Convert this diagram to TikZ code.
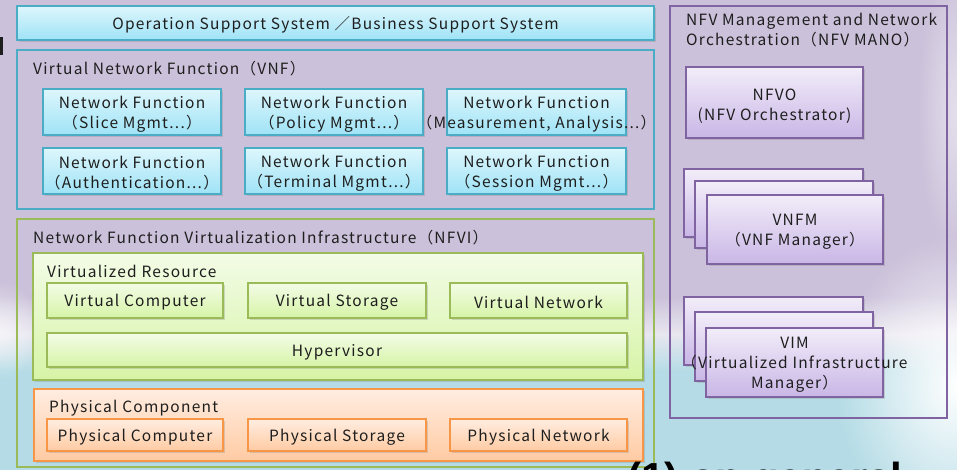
\documentclass[tikz,border=0pt]{standalone}
\usepackage{fontspec}
\setmainfont{Noto Sans CJK JP}[LetterSpace=8]
\newfontfamily\headfont{Liberation Sans}
\usetikzlibrary{shadows,fadings}

% slide palette
\definecolor{bglav}{HTML}{CBC1DA}
\definecolor{bgmist}{HTML}{E8E6EF}
\definecolor{bgblue}{HTML}{B5DCE6}
\definecolor{ink}{HTML}{1E1E1E}
\definecolor{cyline}{HTML}{4BACC6}
\definecolor{cytop}{HTML}{DDF6FC}
\definecolor{cybot}{HTML}{9FE3F6}
\definecolor{grline}{HTML}{9BBB59}
\definecolor{grtop}{HTML}{F3FCE7}
\definecolor{grbot}{HTML}{D6F4A6}
\definecolor{orline}{HTML}{F79646}
\definecolor{ortop}{HTML}{FFEDE1}
\definecolor{orbot}{HTML}{FFCBA3}
\definecolor{puline}{HTML}{8064A2}
\definecolor{putop}{HTML}{F2EDF9}
\definecolor{pubot}{HTML}{C9B6E6}

% backdrop: lavender above, light blue below, misty band between
\pgfdeclareverticalshading{slidebg}{100bp}{color(0bp)=(bgblue); color(25bp)=(bgblue); color(35.5bp)=(bgblue); color(39.5bp)=(bgmist); color(43.5bp)=(bglav); color(75bp)=(bglav); color(100bp)=(bglav)}
\tikzfading[name=glowfade, inner color=transparent!0, outer color=transparent!100]

\tikzset{
  box/.style={rectangle, inner sep=0pt, outer sep=0pt, anchor=north west, line width=1.6pt},
  shade/.style={drop shadow={shadow xshift=1.6pt, shadow yshift=-2pt, opacity=0.28}},
  frame/.style={box, line width=1.3pt},
  cybox/.style={box, shade, draw=cyline, top color=cytop, bottom color=cybot},
  grbox/.style={box, shade, draw=grline, top color=grtop, bottom color=grbot},
  orbox/.style={box, shade, draw=orline, top color=ortop, bottom color=orbot},
  pubox/.style={box, shade, draw=puline, top color=putop, bottom color=pubot},
  txt/.style={inner sep=0pt, align=center, text=ink, font=\fontsize{15.5}{20}\selectfont},
  intxt/.style={txt, yshift=-2pt},
  head/.style={txt, anchor=west, align=left},
}

\begin{document}
\begin{tikzpicture}[x=1pt, y=-1pt]
  % page and backdrop
  \useasboundingbox (0,0) rectangle (957,470);
  \shade[shading=slidebg] (0,0) rectangle (957,470);
  \fill[white, path fading=glowfade] (957,385) ellipse [x radius=120, y radius=150];
  \fill[white, opacity=0.5, path fading=glowfade] (957,110) ellipse [x radius=40, y radius=150];
  \fill[white, opacity=0.6, path fading=glowfade] (0,330) ellipse [x radius=40, y radius=50];
  \fill[ink] (0,37) rectangle (2.5,55);

  % operation / business support
  \node[cybox, minimum width=637pt, minimum height=34pt] (oss) at (17,6) {};
  \node[intxt] (t-oss) at (oss.center) {Operation Support System ／Business Support System};

  % virtual network functions
  \node[frame, draw=cyline, minimum width=637pt, minimum height=159pt] (vnf) at (17,50) {};
  \node[head] (t-vnf) at (33,69) {Virtual Network Function（VNF）};
  \node[cybox, minimum width=178pt, minimum height=46pt] (nf1) at (43,89) {};
  \node[cybox, minimum width=178pt, minimum height=46pt] (nf2) at (245,89) {};
  \node[cybox, minimum width=179pt, minimum height=46pt] (nf3) at (447,89) {};
  \node[cybox, minimum width=178pt, minimum height=46pt] (nf4) at (43,148) {};
  \node[cybox, minimum width=178pt, minimum height=46pt] (nf5) at (245,148) {};
  \node[cybox, minimum width=179pt, minimum height=46pt] (nf6) at (447,148) {};
  \node[intxt] (t-nf1) at (nf1.center) {Network Function\\（Slice Mgmt...）};
  \node[intxt] (t-nf2) at (nf2.center) {Network Function\\（Policy Mgmt...）};
  \node[intxt] (t-nf3) at (nf3.center) {Network Function\\（Measurement, Analysis...）};
  \node[intxt] (t-nf4) at (nf4.center) {Network Function\\（Authentication...）};
  \node[intxt] (t-nf5) at (nf5.center) {Network Function\\（Terminal Mgmt...）};
  \node[intxt] (t-nf6) at (nf6.center) {Network Function\\（Session Mgmt...）};

  % virtualization infrastructure
  \node[frame, draw=grline, minimum width=637pt, minimum height=248pt] (nfvi) at (17,219) {};
  \node[head] (t-nfvi) at (33,238) {Network Function Virtualization Infrastructure（NFVI）};
  \node[grbox, minimum width=610pt, minimum height=127pt] (vres) at (33,253) {};
  \node[head] (t-vres) at (47,271) {Virtualized Resource};
  \node[grbox, minimum width=176pt, minimum height=35pt] (vcomp) at (47,283) {};
  \node[grbox, minimum width=178pt, minimum height=35pt] (vstor) at (248,283) {};
  \node[grbox, minimum width=177pt, minimum height=35pt] (vnet) at (450,283) {};
  \node[grbox, minimum width=580pt, minimum height=34pt] (hyp) at (47,333) {};
  \node[intxt] (t-vcomp) at (vcomp.center) {Virtual Computer};
  \node[intxt] (t-vstor) at (vstor.center) {Virtual Storage};
  \node[intxt] (t-vnet) at (vnet.center) {Virtual Network};
  \node[intxt] (t-hyp) at (hyp.center) {Hypervisor};

  \node[orbox, minimum width=609pt, minimum height=72pt] (phys) at (34,389) {};
  \node[head] (t-phys) at (49,408) {Physical Component};
  \node[orbox, minimum width=176pt, minimum height=32pt] (pcomp) at (47,419) {};
  \node[orbox, minimum width=178pt, minimum height=32pt] (pstor) at (248,419) {};
  \node[orbox, minimum width=177pt, minimum height=32pt] (pnet) at (450,419) {};
  \node[intxt] (t-pcomp) at (pcomp.center) {Physical Computer};
  \node[intxt] (t-pstor) at (pstor.center) {Physical Storage};
  \node[intxt] (t-pnet) at (pnet.center) {Physical Network};

  % management and orchestration
  \node[frame, draw=puline, minimum width=277pt, minimum height=412pt] (mano) at (670,6) {};
  \node[head, anchor=north west] (t-mano) at (686,13) {NFV Management and Network\\Orchestration（NFV MANO）};
  \node[pubox, minimum width=177pt, minimum height=71pt] (nfvo) at (686,67) {};
  \node[intxt] (t-nfvo) at ([yshift=-2pt]nfvo.center) {NFVO\\(NFV Orchestrator)};

  \node[pubox, minimum width=179pt, minimum height=68pt] (vnfm1) at (684,169) {};
  \node[pubox, minimum width=178pt, minimum height=67pt] (vnfm2) at (695,181) {};
  \node[pubox, minimum width=176pt, minimum height=69pt] (vnfm3) at (707,195) {};
  \node[intxt] (t-vnfm) at (vnfm3.center) {VNFM\\（VNF Manager）};

  \node[pubox, minimum width=179pt, minimum height=68pt] (vim1) at (684,297) {};
  \node[pubox, minimum width=178pt, minimum height=69pt] (vim2) at (695,312) {};
  \node[pubox, minimum width=177pt, minimum height=69pt] (vim3) at (706,328) {};
  \node[intxt] (t-vim) at (vim3.center) {VIM\\（Virtualized Infrastructure\\Manager）};

  % slide caption running off the lower edge
  \node[inner sep=0pt, anchor=base west, font=\headfont\bfseries\fontsize{42}{42}\selectfont, text=black] (cap) at (627,492) {(1) on general};
\end{tikzpicture}
\end{document}
